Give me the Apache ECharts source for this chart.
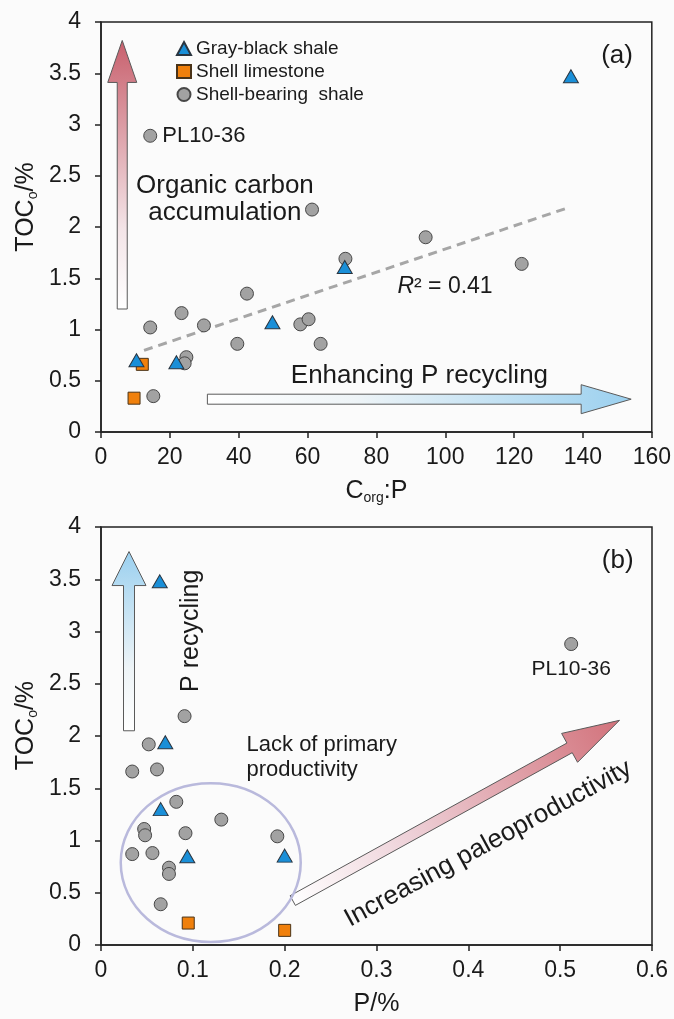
<!DOCTYPE html>
<html>
<head>
<meta charset="utf-8">
<script src="https://cdn.jsdelivr.net/npm/echarts@6/dist/echarts.min.js"></script>
<style>
  html, body { margin: 0; padding: 0; background: #fbfbfb; }
  #chart { width: 674px; height: 1019px; }
</style>
</head>
<body>
<div id="chart"></div>
<script>
// ---- Sample values: panel (a) TOCo vs Corg:P ----
const grayBlackA = [[10.3, 0.70], [21.9, 0.68], [49.8, 1.07], [70.8, 1.61], [136.5, 3.47]];
const limestoneA = [[9.6, 0.33], [12.0, 0.66]];
const shellShaleA = [[14.3, 2.89], [61.3, 2.17], [94.3, 1.90], [122.2, 1.64], [71.0, 1.69], [42.4, 1.35],
  [23.4, 1.16], [14.3, 1.02], [29.9, 1.04], [57.9, 1.05], [60.3, 1.10], [63.8, 0.86], [39.6, 0.86],
  [24.8, 0.73], [24.3, 0.67], [15.2, 0.35]];

// ---- Sample values: panel (b) TOCo vs P ----
const grayBlackB = [[0.064, 3.48], [0.070, 1.94], [0.065, 1.30], [0.094, 0.85], [0.200, 0.855]];
const limestoneB = [[0.095, 0.21], [0.200, 0.14]];
const shellShaleB = [[0.512, 2.88], [0.091, 2.19], [0.052, 1.92], [0.034, 1.66], [0.061, 1.68], [0.082, 1.37],
  [0.131, 1.20], [0.047, 1.11], [0.048, 1.05], [0.092, 1.07], [0.192, 1.04], [0.034, 0.87], [0.056, 0.88],
  [0.074, 0.74], [0.074, 0.68], [0.065, 0.39]];

// Outlier sample (first entry of each shell-bearing list)
const outlierName = 'PL10-36';
const outlierIndex = 0;

// Linear fit shown in panel (a)
const trendSlope = 0.0113;
const trendIntercept = 0.655;
const trendRange = [12.5, 135.5];
const trendR2 = 0.41;

// Axis ranges [min, max, interval]
const tocAxis = [0, 4, 0.5];
const corgPAxis = [0, 160, 20];
const pAxis = [0, 0.6, 0.1];

const seriesNames = ['Gray-black shale', 'Shell limestone', 'Shell-bearing  shale'];

const FONT = 'Liberation Sans, Arial, Helvetica, sans-serif';
const INK = '#1a1a1a';

const chart = echarts.init(document.getElementById('chart'), null, { renderer: 'canvas' });

const styles = {
  tri: { symbol: 'triangle', symbolSize: [15, 13], itemStyle: { color: '#1a8fd8', borderColor: '#2a3540', borderWidth: 1, opacity: 1 } },
  sq: { symbol: 'rect', symbolSize: 12, itemStyle: { color: '#f0800c', borderColor: '#4a3318', borderWidth: 1, opacity: 1 } },
  circ: { symbol: 'circle', symbolSize: 13, itemStyle: { color: '#a2a2a2', borderColor: '#474747', borderWidth: 1, opacity: 1 } }
};

function withOutlier(list, labelOpt) {
  return list.map((p, i) => i === outlierIndex
    ? { value: p, label: Object.assign({ show: true, formatter: outlierName, fontFamily: FONT, color: INK }, labelOpt) }
    : p);
}

function gridAxes(gridIndex, xr) {
  const common = {
    gridIndex,
    axisLine: { show: true, onZero: false, lineStyle: { color: '#222', width: 1.5 } },
    axisTick: { show: true, inside: false, length: 6, lineStyle: { color: '#222', width: 1.5 } },
    splitLine: { show: false },
    axisLabel: { fontFamily: FONT, fontSize: 23, color: INK }
  };
  return {
    x: Object.assign({}, common, { type: 'value', min: xr[0], max: xr[1], interval: xr[2],
      axisLabel: Object.assign({}, common.axisLabel, { margin: 14 }) }),
    y: Object.assign({}, common, { type: 'value', min: tocAxis[0], max: tocAxis[1], interval: tocAxis[2],
      axisLabel: Object.assign({}, common.axisLabel, { margin: 20 }) })
  };
}

const axA = gridAxes(0, corgPAxis);
const axB = gridAxes(1, pAxis);

axA.x.name = 'C{sub|org}:P';
axB.x.name = 'P/%';
[axA.x, axB.x].forEach(ax => {
  ax.nameLocation = 'middle';
  ax.nameGap = 45;
  ax.nameTextStyle = {
    fontFamily: FONT, fontSize: 25, color: INK, lineHeight: 28,
    rich: { sub: { fontFamily: FONT, fontSize: 14, color: INK, verticalAlign: 'bottom', lineHeight: 14 } }
  };
});

function scatter(name, style, data, axisIdx, z) {
  return Object.assign({
    name, type: 'scatter', xAxisIndex: axisIdx, yAxisIndex: axisIdx, data, z,
    emphasis: { disabled: true }
  }, JSON.parse(JSON.stringify(style)));
}

chart.setOption({
  backgroundColor: '#fbfbfb',
  animation: false,
  textStyle: { fontFamily: FONT },
  grid: [
    { left: 101, right: 21, top: 22, height: 410, show: true, borderColor: '#222', borderWidth: 1.5, backgroundColor: 'transparent' },
    { left: 101, right: 22, top: 527, height: 421, show: true, borderColor: '#222', borderWidth: 1.5, backgroundColor: 'transparent' }
  ],
  xAxis: [axA.x, axB.x],
  yAxis: [axA.y, axB.y],
  legend: {
    data: [
      { name: seriesNames[0], icon: 'triangle' },
      { name: seriesNames[1], icon: 'rect' },
      { name: seriesNames[2], icon: 'circle' }
    ],
    orient: 'vertical', left: 171, top: 34, itemGap: 4,
    itemWidth: 14, itemHeight: 13,
    textStyle: { fontFamily: FONT, fontSize: 19, color: INK },
    selectedMode: false
  },
  series: [
    scatter(seriesNames[2], styles.circ, withOutlier(shellShaleA, { position: 'right', distance: 5, fontSize: 22 }), 0, 3),
    scatter(seriesNames[1], styles.sq, limestoneA, 0, 4),
    scatter(seriesNames[0], styles.tri, grayBlackA, 0, 5),
    {
      type: 'line', xAxisIndex: 0, yAxisIndex: 0, z: 2, silent: true, showSymbol: false,
      data: trendRange.map(x => [x, trendIntercept + trendSlope * x]),
      lineStyle: { color: '#a6a6a6', width: 3, type: [9, 6] }
    },
    scatter(seriesNames[2], styles.circ, withOutlier(shellShaleB, { position: 'bottom', distance: 8, fontSize: 21 }), 1, 3),
    scatter(seriesNames[1], styles.sq, limestoneB, 1, 4),
    scatter(seriesNames[0], styles.tri, grayBlackB, 1, 5)
  ]
});

// ---- Annotations (arrows, notes, enclosing ellipse) ----
function px(grid, pt) { return chart.convertToPixel({ gridIndex: grid }, pt); }

function arrow(grid, tail, tip, shaftW, headW, headL, stops) {
  const a = px(grid, tail), b = px(grid, tip);
  const dx = b[0] - a[0], dy = b[1] - a[1], len = Math.hypot(dx, dy);
  const ux = dx / len, uy = dy / len, nx = -uy, ny = ux;
  const bx = b[0] - ux * headL, by = b[1] - uy * headL;
  const s = shaftW / 2, h = headW / 2;
  const pts = [
    [a[0] + nx * s, a[1] + ny * s], [bx + nx * s, by + ny * s], [bx + nx * h, by + ny * h],
    [b[0], b[1]],
    [bx - nx * h, by - ny * h], [bx - nx * s, by - ny * s], [a[0] - nx * s, a[1] - ny * s]
  ];
  return {
    type: 'polygon', z: 1, silent: true, shape: { points: pts },
    style: {
      fill: { type: 'linear', x: a[0], y: a[1], x2: b[0], y2: b[1], global: true, colorStops: stops },
      stroke: '#5a5a5a', lineWidth: 1
    }
  };
}

function note(grid, pt, text, opts) {
  const p = px(grid, pt);
  return {
    type: 'text', z: 10, silent: true, x: p[0], y: p[1], rotation: (opts.rotate || 0) * Math.PI / 180,
    style: Object.assign({
      text, fontFamily: FONT, fontSize: 26, fill: INK, align: 'center', verticalAlign: 'middle'
    }, opts.style || {})
  };
}

const redStops = [{ offset: 0, color: '#ffffff' }, { offset: 0.3, color: '#f3e4e7' }, { offset: 1, color: '#c8606d' }];
const blueStops = [{ offset: 0, color: '#ffffff' }, { offset: 0.35, color: '#eef4f7' }, { offset: 1, color: '#9bd0ef' }];
const diagStops = [{ offset: 0, color: '#ffffff' }, { offset: 0.35, color: '#eed2d9' }, { offset: 1, color: '#d2727b' }];

const ellCenter = px(1, [0.1195, 0.789]);
const ellEdge = px(1, [0.2175, 1.549]);

const tocTitle = 'TOC{sub|o}/%';
const titleRich = { sub: { fontFamily: FONT, fontSize: 14, fill: INK, verticalAlign: 'bottom', lineHeight: 14 } };
const yTitleA = px(0, [0, 2.195]);
const yTitleB = px(1, [0, 2.10]);

chart.setOption({
  graphic: [
    arrow(0, [6.17, 1.20], [6.17, 3.82], 10, 29, 42, redStops),
    arrow(0, [30.9, 0.32], [154, 0.32], 10, 29, 50, blueStops),
    arrow(1, [0.0305, 2.05], [0.0305, 3.765], 11, 34, 34, blueStops),
    arrow(1, [0.2088, 0.425], [0.5646, 2.15], 11, 33, 57, diagStops),
    {
      type: 'ellipse', z: 1, silent: true,
      shape: { cx: ellCenter[0], cy: ellCenter[1], rx: ellEdge[0] - ellCenter[0], ry: ellCenter[1] - ellEdge[1] },
      style: { fill: null, stroke: '#b9b9dc', lineWidth: 2.5 }
    },
    note(0, [36.0, 2.27], 'Organic carbon\naccumulation', { style: { lineHeight: 27 } }),
    note(0, [92.5, 0.546], 'Enhancing P recycling', {}),
    note(0, [86.1, 1.418], '{i|R}\u00b2 = ' + trendR2.toFixed(2), {
      style: { align: 'left', fontSize: 23, rich: { i: { fontFamily: FONT, fontSize: 23, fontStyle: 'italic', fill: INK } } }
    }),
    note(0, [149.9, 3.67], '(a)', { style: { fontSize: 26 } }),
    note(1, [0.5626, 3.677], '(b)', { style: { fontSize: 26 } }),
    note(1, [0.098, 3.007], 'P recycling', { rotate: 90, style: { fontSize: 25 } }),
    note(1, [0.1585, 1.796], 'Lack of primary\nproductivity', { style: { align: 'left', fontSize: 22, lineHeight: 25 } }),
    note(1, [0.4216, 0.969], 'Increasing paleoproductivity', { rotate: 28.5, style: { fontSize: 26 } }),
    {
      type: 'text', z: 10, silent: true, x: yTitleA[0] - 75, y: yTitleA[1], rotation: Math.PI / 2,
      style: { text: tocTitle, fontFamily: FONT, fontSize: 25, fill: INK, align: 'center', verticalAlign: 'middle', lineHeight: 28, rich: titleRich }
    },
    {
      type: 'text', z: 10, silent: true, x: yTitleB[0] - 75, y: yTitleB[1], rotation: Math.PI / 2,
      style: { text: tocTitle, fontFamily: FONT, fontSize: 25, fill: INK, align: 'center', verticalAlign: 'middle', lineHeight: 28, rich: titleRich }
    }
  ]
});
</script>
</body>
</html>
